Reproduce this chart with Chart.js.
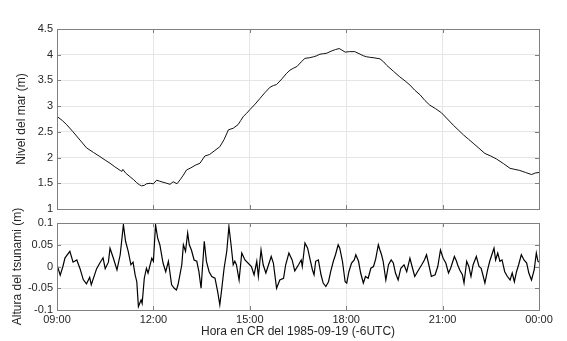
<!DOCTYPE html>
<html>
<head>
<meta charset="utf-8">
<script src="https://cdn.jsdelivr.net/npm/chart.js@4.4.1/dist/chart.umd.min.js"></script>
<style>
  body { margin: 0; background: #fff; }
  canvas { position: absolute; left: 0; top: 0; }
</style>
</head>
<body>
<canvas id="nivelChart" width="567" height="341"></canvas>
<canvas id="tsunamiChart" width="567" height="341"></canvas>
<script>
// minutos desde las 09:00 y nivel del mar (m)
var nivelMin = [0, 10, 18, 30, 43, 55, 68, 80, 90, 99, 108, 118, 121, 123, 128, 136, 143, 149, 154, 158,
  163, 167, 174, 180, 186, 192, 198, 205, 211, 217, 224, 230, 236, 242, 250, 258, 267, 276, 285, 295,
  304, 312, 320, 329, 338, 343, 348, 354, 360, 370, 379, 388, 398, 404, 410, 420, 428, 435, 442, 448,
  456, 463, 471, 479, 485, 491, 498, 504, 512, 520, 527, 532, 538, 546, 556, 564, 572, 578, 584, 592,
  603, 610, 616, 628, 640, 650, 659, 668, 678, 687, 696, 707, 718, 729, 740, 750, 759, 768, 777, 788,
  799, 810, 821, 834, 846, 855, 864, 875, 886, 893, 900];
var nivelVal = [2.80, 2.72, 2.64, 2.50, 2.34, 2.19, 2.10, 2.02, 1.95, 1.89, 1.82, 1.75, 1.73, 1.77, 1.70, 1.63, 1.57, 1.51, 1.47, 1.45,
  1.46, 1.49, 1.50, 1.49, 1.56, 1.54, 1.52, 1.50, 1.48, 1.53, 1.49, 1.57, 1.66, 1.76, 1.80, 1.85, 1.89, 2.03, 2.06, 2.14,
  2.21, 2.35, 2.54, 2.57, 2.64, 2.72, 2.80, 2.86, 2.93, 3.04, 3.15, 3.26, 3.37, 3.40, 3.42, 3.53, 3.63, 3.70, 3.74, 3.77,
  3.86, 3.93, 3.94, 3.96, 3.98, 4.01, 4.02, 4.03, 4.07, 4.10, 4.12, 4.09, 4.05, 4.06, 4.06, 4.02, 3.98, 3.96, 3.95, 3.94,
  3.92, 3.86, 3.79, 3.68, 3.57, 3.49, 3.41, 3.31, 3.22, 3.11, 3.02, 2.95, 2.87, 2.75, 2.63, 2.53, 2.44, 2.36, 2.28, 2.18,
  2.08, 2.03, 1.97, 1.88, 1.79, 1.77, 1.75, 1.71, 1.67, 1.70, 1.71];

// minutos desde las 09:00 y altura del tsunami (m)
var tsunamiMin = [0, 6, 11, 15, 24, 30, 37, 43, 49, 55, 61, 64, 74, 80, 86, 90, 96, 99, 105, 112,
  118, 124, 128, 133, 138, 142, 146, 149, 152, 157, 159, 163, 167, 170, 177, 180, 184, 188, 192, 198,
  203, 208, 214, 219, 223, 226, 233, 236, 240, 244, 247, 251, 256, 261, 265, 269, 275, 279, 284, 289,
  295, 300, 304, 307, 312, 317, 321, 325, 329, 332, 335, 340, 345, 351, 363, 368, 373, 376, 381, 385,
  390, 395, 400, 404, 410, 416, 423, 427, 433, 439, 444, 451, 456, 458, 463, 468, 472, 477, 480, 483,
  488, 493, 497, 502, 507, 511, 516, 520, 525, 528, 533, 538, 541, 545, 550, 555, 558, 563, 567, 572,
  576, 581, 586, 591, 595, 600, 603, 606, 609, 614, 619, 624, 628, 632, 637, 642, 648, 653, 659, 663,
  668, 675, 681, 686, 690, 695, 699, 706, 711, 716, 721, 726, 731, 735, 742, 746, 748, 752, 757, 760,
  765, 769, 773, 777, 783, 788, 792, 796, 799, 804, 808, 813, 816, 819, 823, 827, 831, 836, 841, 846,
  850, 854, 858, 862, 867, 872, 877, 881, 886, 891, 895, 898, 900];
var tsunamiVal = [0.004, -0.02, 0.0, 0.02, 0.035, 0.01, 0.015, -0.005, -0.03, -0.04, -0.025, -0.042, -0.005, 0.008, 0.02, -0.005, 0.01, 0.042, 0.02, -0.008,
  0.027, 0.096, 0.058, 0.035, 0.004, 0.01, -0.02, -0.035, -0.092, -0.077, -0.085, -0.027, -0.004, -0.015, 0.019, 0.012, 0.096, 0.065, 0.05, 0.008,
  -0.012, 0.012, -0.042, -0.05, -0.054, -0.042, 0.004, 0.05, 0.035, 0.077, 0.05, 0.038, 0.015, 0.012, -0.012, -0.05, 0.058, 0.012, -0.012, -0.023,
  -0.027, -0.058, -0.088, -0.058, -0.004, 0.035, 0.092, 0.05, 0.004, 0.012, 0.004, -0.031, 0.031, 0.015, 0.0, -0.019, 0.012, -0.023, 0.038, 0.004,
  -0.015, 0.004, 0.023, 0.008, -0.05, -0.031, -0.027, 0.004, 0.031, 0.015, -0.01, 0.004, 0.015, 0.0, 0.054, 0.042, 0.019, -0.008, -0.019, 0.012,
  0.015, -0.019, -0.038, -0.046, -0.035, -0.012, 0.012, 0.027, 0.05, 0.042, 0.012, -0.035, -0.038, -0.012, 0.008, 0.015, 0.027, 0.012, -0.015, -0.038,
  -0.023, -0.027, -0.004, 0.0, 0.017, 0.05, 0.038, 0.027, 0.012, -0.031, 0.004, 0.015, 0.008, -0.015, -0.031, -0.004, 0.004, -0.012, 0.019, 0.0,
  -0.023, -0.008, 0.004, 0.015, 0.027, 0.0, -0.023, -0.019, 0.0, 0.038, 0.019, 0.008, -0.015, -0.004, 0.023, 0.012, 0.004, -0.008, -0.019, -0.038,
  0.012, 0.0, -0.023, 0.004, 0.023, 0.0, -0.004, -0.023, -0.038, -0.008, 0.012, 0.031, 0.042, 0.015, 0.031, 0.012, 0.015, -0.012, -0.023, -0.031,
  -0.015, -0.035, -0.012, 0.004, 0.027, 0.015, 0.008, -0.015, -0.031, -0.008, 0.031, 0.012, 0.01];

var nivelTicks = [1, 1.5, 2, 2.5, 3, 3.5, 4, 4.5];
var tsunamiTicks = [-0.1, -0.05, 0, 0.05, 0.1];
var horaInicio = 9 * 60;

var fuente = '"Liberation Sans", Arial, Helvetica, sans-serif';
Chart.defaults.font.family = fuente;
Chart.defaults.color = '#262626';

function horaTexto(v) {
  var m = (horaInicio + v) % 1440;
  var h = Math.floor(m / 60), mm = m % 60;
  return (h < 10 ? '0' : '') + h + ':' + (mm < 10 ? '0' : '') + mm;
}

function puntos(xs, ys) {
  return xs.map(function (x, i) { return { x: x, y: ys[i] }; });
}

// marco gris, marcas hacia adentro y titulo vertical del eje y
var marcoPlugin = {
  id: 'marco',
  afterDraw: function (chart, args, opts) {
    var ctx = chart.ctx, a = chart.chartArea;
    ctx.save();
    ctx.strokeStyle = '#808080';
    ctx.lineWidth = 1;
    ctx.beginPath();
    chart.scales.y.ticks.forEach(function (t) {
      var py = Math.round(chart.scales.y.getPixelForValue(t.value)) + 0.5;
      ctx.moveTo(a.left, py); ctx.lineTo(a.left + 4, py);
      ctx.moveTo(a.right, py); ctx.lineTo(a.right - 4, py);
    });
    chart.scales.x.ticks.forEach(function (t) {
      var px = Math.round(chart.scales.x.getPixelForValue(t.value)) + 0.5;
      ctx.moveTo(px, a.top); ctx.lineTo(px, a.top + 4);
      ctx.moveTo(px, a.bottom); ctx.lineTo(px, a.bottom - 4);
    });
    ctx.stroke();
    ctx.strokeRect(Math.round(a.left) + 0.5, Math.round(a.top) + 0.5,
      Math.round(a.right - a.left), Math.round(a.bottom - a.top));
    ctx.translate(opts.x, (a.top + a.bottom) / 2);
    ctx.rotate(-Math.PI / 2);
    ctx.fillStyle = '#262626';
    ctx.font = '12px ' + fuente;
    ctx.textAlign = 'center';
    ctx.textBaseline = 'middle';
    ctx.fillText(opts.texto, 0, 0);
    ctx.restore();
  }
};

var nivelConfig = {
  type: 'line',
  data: {
    datasets: [{
      data: puntos(nivelMin, nivelVal),
      borderColor: '#111',
      borderWidth: 1,
      pointRadius: 0,
      tension: 0
    }]
  },
  options: {
    responsive: false,
    animation: false,
    layout: { padding: { left: 0, right: 28, top: 29, bottom: 132 } },
    plugins: {
      legend: { display: false },
      tooltip: { enabled: false },
      marco: { texto: 'Nivel del mar (m)', x: 22 }
    },
    scales: {
      x: {
        type: 'linear', min: 0, max: 900,
        ticks: { stepSize: 180, display: false },
        grid: { color: '#e6e6e6', drawTicks: false },
        border: { display: false },
        afterFit: function (s) { s.height = 0; }
      },
      y: {
        min: 1, max: 4.5,
        afterBuildTicks: function (s) { s.ticks = nivelTicks.map(function (v) { return { value: v }; }); },
        ticks: { padding: 4, font: { size: 11 }, callback: function (v) { return String(v); } },
        grid: { color: '#e6e6e6', drawTicks: false },
        border: { display: false },
        afterFit: function (s) { s.width = 57; }
      }
    }
  },
  plugins: [marcoPlugin]
};

var tsunamiConfig = {
  type: 'line',
  data: {
    datasets: [{
      data: puntos(tsunamiMin, tsunamiVal),
      borderColor: '#000',
      borderWidth: 1.2,
      pointRadius: 0,
      tension: 0
    }]
  },
  options: {
    responsive: false,
    animation: false,
    layout: { padding: { left: 0, right: 28, top: 223, bottom: 0 } },
    plugins: {
      legend: { display: false },
      tooltip: { enabled: false },
      marco: { texto: 'Altura del tsunami (m)', x: 18 }
    },
    scales: {
      x: {
        type: 'linear', min: 0, max: 900,
        ticks: { stepSize: 180, padding: 3, font: { size: 11 }, maxRotation: 0, callback: horaTexto },
        grid: { color: '#e6e6e6', drawTicks: false },
        border: { display: false },
        title: {
          display: true,
          text: 'Hora en CR del 1985-09-19 (-6UTC)',
          font: { size: 12 },
          padding: { top: 0, bottom: 2 }
        },
        afterFit: function (s) { s.height = 31; }
      },
      y: {
        min: -0.1, max: 0.1,
        afterBuildTicks: function (s) { s.ticks = tsunamiTicks.map(function (v) { return { value: v }; }); },
        ticks: { padding: 4, font: { size: 11 }, callback: function (v) { return String(Math.round(v * 100) / 100); } },
        grid: { color: '#e6e6e6', drawTicks: false },
        border: { display: false },
        afterFit: function (s) { s.width = 57; }
      }
    }
  },
  plugins: [marcoPlugin]
};

var ctxNivel = document.getElementById('nivelChart').getContext('2d');
var nivelChart = new Chart(ctxNivel, nivelConfig);

var ctxTsunami = document.getElementById('tsunamiChart').getContext('2d');
var tsunamiChart = new Chart(ctxTsunami, tsunamiConfig);
</script>
</body>
</html>
